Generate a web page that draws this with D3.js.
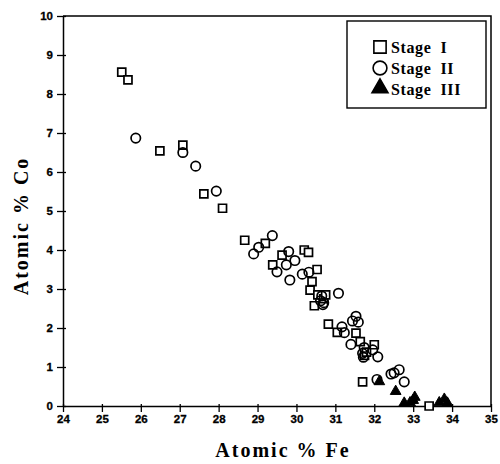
<!DOCTYPE html>
<html><head><meta charset="utf-8">
<script src="https://cdn.jsdelivr.net/npm/d3@7"></script>
<style>
body{margin:0;background:#fff;}
svg{display:block;}
</style></head>
<body><svg id="c" width="500" height="464"></svg>
<script>
const xTicks = [24,25,26,27,28,29,30,31,32,33,34,35];
const yTicks = [0,1,2,3,4,5,6,7,8,9,10];
const xLabel = "Atomic % Fe";
const yLabel = "Atomic % Co";
const seriesNames = ["Stage I","Stage II","Stage III"];

// Stage I (squares): [Fe, Co]
const stage1 = [[25.51,8.56],[25.67,8.36],[26.49,6.54],[27.08,6.69],[27.62,5.44],[28.1,5.07],
 [28.67,4.25],[29.2,4.17],[29.39,3.62],[29.63,3.87],[30.2,4.0],[30.31,3.94],[30.53,3.5],
 [30.4,3.19],[30.35,2.97],[30.55,2.85],[30.7,2.75],[30.75,2.85],[30.46,2.57],[30.82,2.1],
 [31.05,1.89],[31.53,1.87],[31.64,1.65],[31.75,1.3],[31.8,1.38],[32.0,1.57],[31.7,0.62],[33.41,0.0]];
// Stage II (circles)
const stage2 = [[25.87,6.87],[27.08,6.5],[27.41,6.15],[27.94,5.51],[28.9,3.9],[29.03,4.07],
 [29.38,4.37],[29.5,3.44],[29.8,3.96],[29.74,3.62],[29.96,3.73],[29.83,3.23],[30.15,3.38],
 [30.32,3.43],[30.62,2.7],[30.65,2.82],[30.7,2.65],[30.68,2.6],[31.08,2.89],[31.17,2.03],
 [31.23,1.88],[31.44,2.18],[31.53,2.3],[31.59,2.15],[31.4,1.58],[31.74,1.5],[31.7,1.35],
 [31.72,1.25],[31.96,1.44],[32.09,1.26],[32.07,0.68],[32.43,0.82],[32.51,0.85],[32.64,0.93],[32.77,0.62]];
// Stage III (filled triangles)
const stage3 = [[32.13,0.6],[32.55,0.35],[32.77,0.05],[32.92,0.06],[33.0,0.12],[33.04,0.2],
 [33.67,0.06],[33.8,0.15],[33.88,0.05]];

const svg = d3.select("#c");
const L = 63, R = 491, T = 16, B = 406;
const x = d3.scaleLinear().domain([24,35]).range([L,R]);
const y = d3.scaleLinear().domain([0,10]).range([B,T]);

// frame (top and right)
svg.append("path").attr("d", `M${L},${T}H${R}V${B}`).attr("fill","none")
  .attr("stroke","#000").attr("stroke-width",1.5);

// x axis
const gx = svg.append("g").attr("transform",`translate(0,${B})`)
  .call(d3.axisBottom(x).tickValues(xTicks).tickSize(6).tickSizeOuter(0).tickPadding(3).tickFormat(d3.format("d")));
gx.select(".domain").attr("stroke-width",1.5);
gx.selectAll(".tick line").attr("y1",-2).attr("stroke-width",1.3);
gx.selectAll(".tick text").attr("font-family","Liberation Sans, Arial, sans-serif")
  .attr("font-weight","bold").attr("font-size",11.5).attr("fill","#000")
  .attr("stroke","#000").attr("stroke-width",0.3);

// y axis
const gy = svg.append("g").attr("transform",`translate(${L},0)`)
  .call(d3.axisLeft(y).tickValues(yTicks).tickSize(6).tickSizeOuter(0).tickPadding(4).tickFormat(d3.format("d")));
gy.select(".domain").attr("stroke-width",1.5);
gy.selectAll(".tick line").attr("x1",3).attr("stroke-width",1.3);
gy.selectAll(".tick text").attr("font-family","Liberation Sans, Arial, sans-serif")
  .attr("font-weight","bold").attr("font-size",11.5).attr("fill","#000")
  .attr("stroke","#000").attr("stroke-width",0.3);

// axis titles
svg.append("text").attr("x",283).attr("y",457).attr("text-anchor","middle")
  .attr("font-family","Liberation Serif, serif").attr("font-weight","bold")
  .attr("font-size",20).attr("letter-spacing",2).text(xLabel);
svg.append("text").attr("transform","translate(28,226) rotate(-90)").attr("text-anchor","middle")
  .attr("font-family","Liberation Serif, serif").attr("font-weight","bold")
  .attr("font-size",20).attr("letter-spacing",2).text(yLabel);

// markers
const sq = d3.symbol().type(d3.symbolSquare).size(64);
const ci = d3.symbol().type(d3.symbolCircle).size(70);
const tr = d3.symbol().type(d3.symbolTriangle).size(50);
const plot = svg.append("g");
plot.selectAll(".s1").data(stage1).join("path").attr("class","s1")
  .attr("transform",d=>`translate(${x(d[0])},${y(d[1])})`).attr("d",sq)
  .attr("fill","#fff").attr("stroke","#000").attr("stroke-width",1.7);
plot.selectAll(".s2").data(stage2).join("path").attr("class","s2")
  .attr("transform",d=>`translate(${x(d[0])},${y(d[1])})`).attr("d",ci)
  .attr("fill","none").attr("stroke","#000").attr("stroke-width",1.7);
plot.selectAll(".s3").data(stage3).join("path").attr("class","s3")
  .attr("transform",d=>`translate(${x(d[0])},${y(d[1])-1})`).attr("d",tr)
  .attr("fill","#000").attr("stroke","#000").attr("stroke-width",1);

// legend
const lg = svg.append("g");
lg.append("rect").attr("x",347).attr("y",21).attr("width",139).attr("height",87)
  .attr("fill","#fff").attr("stroke","#000").attr("stroke-width",1.4);
const legSyms = [d3.symbol().type(d3.symbolSquare).size(150), d3.symbol().type(d3.symbolCircle).size(150), d3.symbol().type(d3.symbolTriangle).size(110)];
seriesNames.forEach((n,i)=>{
  const cy = 47 + i*21;
  lg.append("path").attr("transform",`translate(380,${cy + (i===2?-1:0)})`).attr("d",legSyms[i])
    .attr("fill", i===2 ? "#000" : "#fff").attr("stroke","#000").attr("stroke-width",1.6);
  lg.append("text").attr("x",391).attr("y",cy+5.5)
    .attr("font-family","Liberation Serif, serif").attr("font-weight","bold")
    .attr("font-size",16).attr("letter-spacing",0.6).text(n.replace(" ","\u00a0 "));
});
</script></body></html>
